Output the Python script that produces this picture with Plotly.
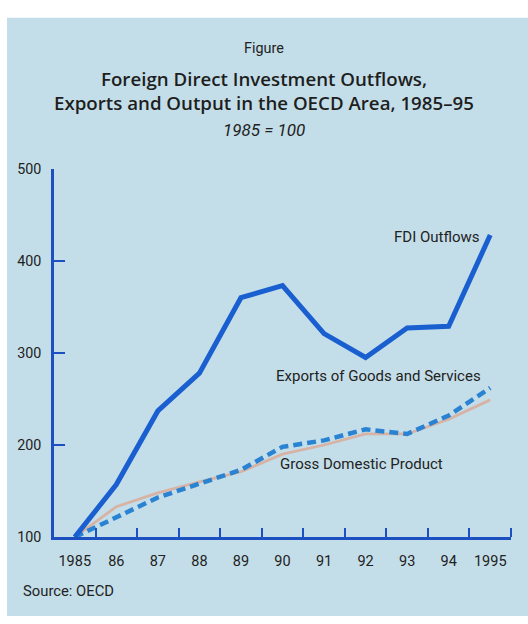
import plotly.graph_objects as go

# Index values, 1985 = 100
years = [1985, 1986, 1987, 1988, 1989, 1990, 1991, 1992, 1993, 1994, 1995]
year_labels = ["1985", "86", "87", "88", "89", "90", "91", "92", "93", "94", "1995"]
fdi_outflows = [100, 157, 237, 278, 360, 373, 321, 295, 327, 329, 428]
exports = [100, 122, 143, 158, 173, 198, 205, 217, 212, 232, 262]
gdp = [100, 133, 148, 160, 171, 190, 200, 212, 212, 228, 249]

W, H = 528, 624
AXIS_BLUE = "#1c4fc0"
TEXT = "#222222"
LABEL_FONT = "Roboto"
TITLE_FONT = "Open Sans"


def px(x):
    return x / W


def py(y):
    return 1 - y / H


fig = go.Figure()

fig.add_trace(go.Scatter(
    x=years, y=gdp, mode="lines",
    line=dict(color="#d6b3a5", width=2.8),
    hoverinfo="skip", showlegend=False,
))
fig.add_trace(go.Scatter(
    x=years, y=exports, mode="lines",
    line=dict(color="#2a82d2", width=4.5, dash="9px,5px"),
    hoverinfo="skip", showlegend=False,
))
fig.add_trace(go.Scatter(
    x=years, y=fdi_outflows, mode="lines",
    line=dict(color="#1a5fd0", width=5),
    hoverinfo="skip", showlegend=False,
))

# panel background
shapes = [dict(
    type="rect", xref="paper", yref="paper",
    x0=px(7), x1=1, y0=0, y1=py(10),
    fillcolor="#c4dee9", line=dict(width=0), layer="below",
)]

annotations = [
    dict(text="Figure", x=0.5, y=py(42), font=dict(size=14.4, color=TEXT, family=LABEL_FONT)),
    dict(text="Foreign Direct Investment Outflows,", x=0.5, y=py(72),
         font=dict(size=18.7, color="#1e1e1e", family=TITLE_FONT, weight=600)),
    dict(text="Exports and Output in the OECD Area, 1985\u201395", x=0.5, y=py(97),
         font=dict(size=18.7, color="#1e1e1e", family=TITLE_FONT, weight=600)),
    dict(text="<i>1985 = 100</i>", x=0.5, y=py(125),
         font=dict(size=17, color=TEXT, family=LABEL_FONT)),
    dict(text="Source: OECD", x=px(21), y=py(598), xanchor="left",
         font=dict(size=14.8, color=TEXT, family=LABEL_FONT)),
]
for a in annotations:
    a.update(xref="paper", yref="paper", showarrow=False)
    a.setdefault("xanchor", "center")
    a["yanchor"] = "middle"

series_labels = [
    ("FDI Outflows", 1994.8, 426),
    ("Exports of Goods and Services", 1994.82, 275),
    ("Gross Domestic Product", 1993.91, 179),
]
for text, x, y in series_labels:
    annotations.append(dict(
        text=text, x=x, y=y, xref="x", yref="y", xanchor="right", yanchor="middle",
        showarrow=False, font=dict(size=15, color=TEXT, family=LABEL_FONT),
    ))

fig.update_layout(
    width=W, height=H,
    margin=dict(l=0, r=0, t=0, b=0),
    paper_bgcolor="white", plot_bgcolor="rgba(0,0,0,0)",
    shapes=shapes, annotations=annotations,
    xaxis=dict(
        domain=[px(54), px(511)],
        range=[1984.5, 1995.5],
        tickvals=years, ticktext=year_labels,
        ticks="", showgrid=False, zeroline=False,
        showline=True, linecolor=AXIS_BLUE, linewidth=2.5,
        tickfont=dict(size=14.5, color=TEXT, family=LABEL_FONT),
        ticklabelstandoff=9,
        minor=dict(
            tickvals=[y + 0.5 for y in years], ticks="inside",
            ticklen=9, tickwidth=2, tickcolor=AXIS_BLUE, showgrid=False,
        ),
    ),
    yaxis=dict(
        domain=[py(543), py(165)],
        range=[100, 500],
        tickvals=[100, 200, 300, 400, 500],
        ticks="inside", ticklen=11, tickwidth=2, tickcolor=AXIS_BLUE,
        showgrid=False, zeroline=False,
        showline=True, linecolor=AXIS_BLUE, linewidth=2.5,
        tickfont=dict(size=14.3, color=TEXT, family=LABEL_FONT),
        ticklabelstandoff=7,
    ),
)

fig.write_html("out.html")
